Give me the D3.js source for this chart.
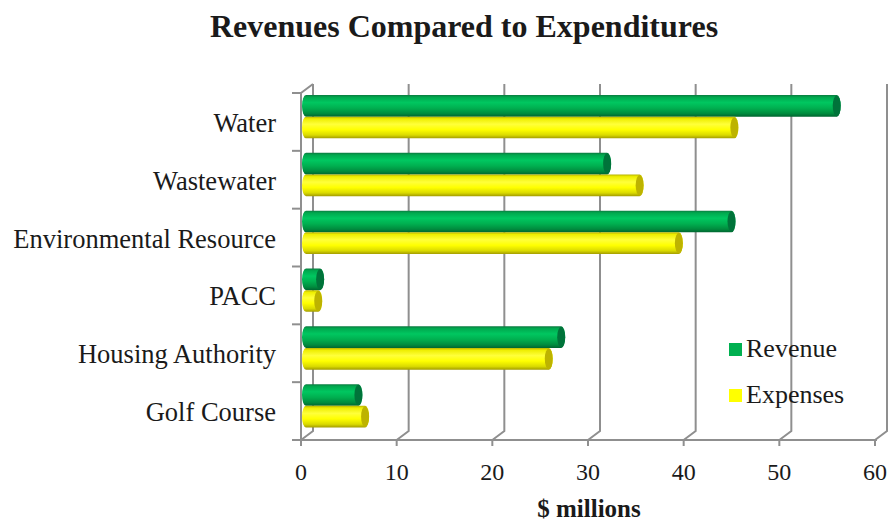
<!DOCTYPE html>
<html>
  <head>
    <script src="https://d3js.org/d3.v7.min.js"></script>
    <style>
      html,
      body {
        margin: 0;
        padding: 0;
        background: #fff;
      }
      text {
        font-family: "Liberation Serif", "Times New Roman", serif;
        fill: #1a1a1a;
      }
    </style>
  </head>
  <body>
    <div id="chart"></div>
    <script>
      const categories = [
        "Water",
        "Wastewater",
        "Environmental Resource",
        "PACC",
        "Housing Authority",
        "Golf Course",
      ];
      const seriesNames = ["Revenue", "Expenses"];
      const revenue = [56, 32, 45, 2, 27.2, 6];
      const expenses = [45.3, 35.4, 39.5, 1.8, 25.9, 6.7];
      const xTicks = [0, 10, 20, 30, 40, 50, 60];

      const width = 891;
      const height = 523;
      const depthX = 12; // 3D wall offset
      const depthY = -9;

      const svg = d3
        .select("#chart")
        .append("svg")
        .attr("width", width)
        .attr("height", height);

      const x = d3.scaleLinear().domain([0, 60]).range([301, 875]);
      const y = d3.scaleBand().domain(categories).range([93, 440]);
      const ySub = d3
        .scaleBand()
        .domain(seriesNames)
        .range([2, y.bandwidth() - 12.5]);

      const values = { Revenue: revenue, Expenses: expenses };

      // gradients for the cylinders
      const defs = svg.append("defs");
      const styles = {
        Revenue: {
          legend: "#00b050",
          cap: "#00733a",
          stops: [
            [0, "#0b7a40"],
            [0.1, "#00a84e"],
            [0.35, "#00c760"],
            [0.6, "#00b050"],
            [0.85, "#008c3e"],
            [1, "#006530"],
          ],
        },
        Expenses: {
          legend: "#ffff00",
          cap: "#bdb300",
          stops: [
            [0, "#b8b400"],
            [0.1, "#eeee00"],
            [0.35, "#ffff3a"],
            [0.6, "#ffff00"],
            [0.85, "#dada00"],
            [1, "#a39c00"],
          ],
        },
      };
      seriesNames.forEach((s) => {
        const g = defs
          .append("linearGradient")
          .attr("id", "grad-" + s)
          .attr("x1", 0)
          .attr("y1", 0)
          .attr("x2", 0)
          .attr("y2", 1);
        g.selectAll("stop")
          .data(styles[s].stops)
          .enter()
          .append("stop")
          .attr("offset", (d) => d[0])
          .attr("stop-color", (d) => d[1]);
      });

      const gridColor = "#8f8f8f";

      // back wall gridlines + depth diagonals
      const grid = svg.append("g");
      xTicks.forEach((t) => {
        grid
          .append("path")
          .attr(
            "d",
            `M${x(t) + depthX},${93 + depthY} V${440 + depthY} L${x(t)},440`
          )
          .attr("fill", "none")
          .attr("stroke", gridColor)
          .attr("stroke-width", 2);
      });

      // front axes
      const axes = svg.append("g");
      axes
        .append("line")
        .attr("x1", x(0))
        .attr("x2", x(60) + 2)
        .attr("y1", 440)
        .attr("y2", 440)
        .attr("stroke", gridColor)
        .attr("stroke-width", 2);
      axes
        .append("path")
        .attr("d", `M${x(0) + depthX},${93 + depthY} L${x(0)},93 V440`)
        .attr("fill", "none")
        .attr("stroke", gridColor)
        .attr("stroke-width", 2);

      // x ticks
      axes
        .selectAll(".xtick")
        .data(xTicks)
        .enter()
        .append("line")
        .attr("x1", (d) => x(d))
        .attr("x2", (d) => x(d))
        .attr("y1", 440)
        .attr("y2", 446)
        .attr("stroke", gridColor)
        .attr("stroke-width", 2);

      // y ticks at band edges
      const yEdges = categories.map((c) => y(c)).concat([440]);
      axes
        .selectAll(".ytick")
        .data(yEdges)
        .enter()
        .append("line")
        .attr("x1", x(0) - 9)
        .attr("x2", x(0))
        .attr("y1", (d) => d)
        .attr("y2", (d) => d)
        .attr("stroke", gridColor)
        .attr("stroke-width", 2);

      // tick labels
      svg
        .append("g")
        .selectAll("text")
        .data(xTicks)
        .enter()
        .append("text")
        .attr("x", (d) => x(d))
        .attr("y", 480)
        .attr("text-anchor", "middle")
        .style("font-size", "24px")
        .text((d) => d);

      svg
        .append("g")
        .selectAll("text")
        .data(categories)
        .enter()
        .append("text")
        .attr("x", 276)
        .attr("y", (d) => y(d) + y.bandwidth() / 2)
        .attr("dy", "0.38em")
        .attr("text-anchor", "end")
        .style("font-size", "26.5px")
        .text((d) => d);

      // cylinders
      const capRx = 4;
      const bars = svg.append("g");
      categories.forEach((c, i) => {
        seriesNames.forEach((s) => {
          const v = values[s][i];
          const x0 = x(0) + 1;
          const x1 = x(v);
          const top = y(c) + ySub(s);
          const h = ySub.bandwidth();
          const ry = h / 2;
          const cy = top + ry;
          bars
            .append("path")
            .attr(
              "d",
              `M${x0 + capRx},${top} H${x1} A${capRx},${ry} 0 0 1 ${x1},${
                top + h
              } H${x0 + capRx} A${capRx},${ry} 0 0 1 ${x0 + capRx},${top} Z`
            )
            .attr("fill", `url(#grad-${s})`);
          bars
            .append("ellipse")
            .attr("cx", x1)
            .attr("cy", cy)
            .attr("rx", capRx)
            .attr("ry", ry - 0.5)
            .attr("fill", styles[s].cap);
        });
      });

      // legend
      const legend = svg.append("g");
      seriesNames.forEach((s, i) => {
        legend
          .append("rect")
          .attr("x", 729)
          .attr("y", 343 + i * 46)
          .attr("width", 13)
          .attr("height", 13)
          .attr("fill", styles[s].legend);
        legend
          .append("text")
          .attr("x", 746)
          .attr("y", 357 + i * 46)
          .style("font-size", "26px")
          .text(s);
      });

      // title and axis title
      svg
        .append("text")
        .attr("x", 464)
        .attr("y", 37)
        .attr("text-anchor", "middle")
        .style("font-size", "32px")
        .style("font-weight", "bold")
        .text("Revenues Compared to Expenditures");

      svg
        .append("text")
        .attr("x", 589)
        .attr("y", 517)
        .attr("text-anchor", "middle")
        .style("font-size", "25px")
        .style("font-weight", "bold")
        .text("$ millions");
    </script>
  </body>
</html>
